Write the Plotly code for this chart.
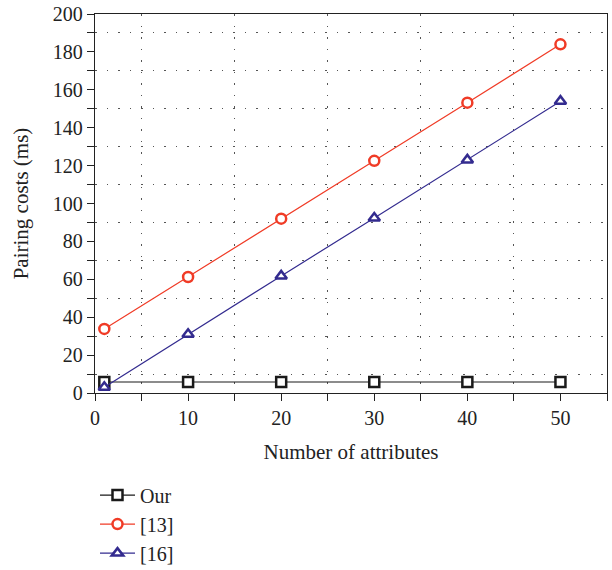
import plotly.graph_objects as go

x_vals = [1, 10, 20, 30, 40, 50]
our = [5.8, 5.8, 5.8, 5.8, 5.8, 5.8]
ref13 = [33.8, 61.2, 92.0, 122.5, 153.2, 184.0]
ref16 = [3.0, 31.0, 61.8, 92.3, 123.0, 154.0]
names = ["Our", "[13]", "[16]"]
colors = ["#1a1a1a", "#f03b26", "#332b8f"]
symbols = ["square", "circle", "triangle-up"]

fig = go.Figure()
for name, ys, c, s in zip(names, [our, ref13, ref16], colors, symbols):
    fig.add_trace(go.Scatter(
        x=x_vals, y=ys, name=name, mode="lines+markers",
        line=dict(color=c, width=1.2),
        marker=dict(symbol=s, size=10, color="white", line=dict(color=c, width=2.5)),
    ))

font = "Liberation Serif"
tc = "#222"
fig.update_layout(
    width=612, height=570,
    margin=dict(l=95, r=5, t=14, b=177, autoexpand=False),
    plot_bgcolor="white", paper_bgcolor="white",
    font=dict(family=font, size=20, color=tc),
    showlegend=True,
    legend=dict(x=0.0, y=-0.218, xanchor="left", yanchor="top",
                font=dict(family=font, size=20, color=tc),
                tracegroupgap=9, itemwidth=35, bgcolor="rgba(0,0,0,0)"),
)
grid = dict(showgrid=True, gridcolor="#555", griddash="1.5px,10px", gridwidth=1.2)
fig.update_xaxes(
    range=[0, 55], dtick=10, tick0=0, automargin=False, ticklabeloverflow="allow",
    showline=True, linecolor=tc, linewidth=1.4, mirror=True,
    ticks="outside", ticklen=7, tickcolor=tc, tickwidth=1.2,
    showgrid=False, zeroline=False,
    minor=dict(dtick=5, tick0=0, ticks="outside", ticklen=7, tickcolor=tc, tickwidth=1.2, **grid),
    tickfont=dict(family=font, size=20, color=tc),
    title=dict(text="Number of attributes", font=dict(family=font, size=21, color=tc), standoff=16),
)
fig.update_yaxes(
    range=[0, 200], dtick=20, tick0=0, automargin=False, ticklabeloverflow="allow",
    showline=True, linecolor=tc, linewidth=1.4, mirror=True,
    ticks="outside", ticklen=7, tickcolor=tc, tickwidth=1.2,
    showgrid=False, zeroline=False,
    minor=dict(dtick=10, tick0=0, ticks="outside", ticklen=7, tickcolor=tc, tickwidth=1.2, **grid),
    tickfont=dict(family=font, size=20, color=tc),
    title=dict(text="Pairing costs (ms)", font=dict(family=font, size=21, color=tc), standoff=18),
)
fig.write_html("out.html", config={"displayModeBar": False},
               post_script="document.body.style.margin='0';document.body.style.overflow='hidden';")
